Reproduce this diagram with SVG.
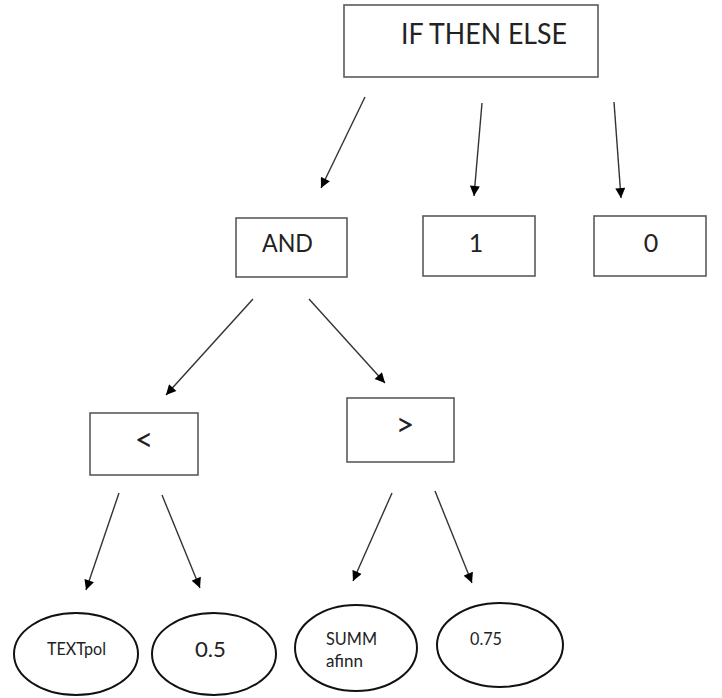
<svg xmlns="http://www.w3.org/2000/svg" width="722" height="698" viewBox="0 0 722 698">
<defs>
<marker id="ah" viewBox="0 0 10 10" refX="10" refY="5" markerWidth="11" markerHeight="10" markerUnits="userSpaceOnUse" orient="auto">
<path d="M0,0 L10,5 L0,10 Z" fill="#000"/>
</marker>
<style>
.box{fill:#fff;stroke:#5a5a5a;stroke-width:1.6}
.ell{fill:#fff;stroke:#111;stroke-width:2}
.t{font-family:Lato,"Liberation Sans",sans-serif;fill:#222}
.c{stroke:#333;stroke-width:1.4;fill:none;marker-end:url(#ah)}
</style>
</defs>
<rect width="722" height="698" fill="#fff"/>
<g id="connectors">
<line class="c" x1="365" y1="97" x2="321" y2="188"/>
<line class="c" x1="482" y1="103" x2="474" y2="196"/>
<line class="c" x1="614" y1="102" x2="621" y2="198"/>
<line class="c" x1="253" y1="299" x2="166" y2="395"/>
<line class="c" x1="309" y1="299" x2="385" y2="383"/>
<line class="c" x1="119" y1="493" x2="86" y2="590"/>
<line class="c" x1="162" y1="495" x2="200" y2="588"/>
<line class="c" x1="392" y1="493" x2="353" y2="581"/>
<line class="c" x1="435" y1="491" x2="472" y2="583"/>
</g>
<g id="ifthenelse">
<rect class="box" x="344" y="5" width="254" height="72"/>
<text class="t" x="401" y="44" font-size="28" textLength="166" lengthAdjust="spacingAndGlyphs">IF THEN ELSE</text>
</g>
<g id="and">
<rect class="box" x="236" y="218" width="111" height="59"/>
<text class="t" x="262" y="252" font-size="25" textLength="51" lengthAdjust="spacingAndGlyphs">AND</text>
</g>
<g id="one">
<rect class="box" x="423" y="216" width="112" height="60"/>
<text class="t" x="476" y="252" font-size="25" text-anchor="middle">1</text>
</g>
<g id="zero">
<rect class="box" x="594" y="216" width="112" height="60"/>
<text class="t" x="651" y="252" font-size="25" text-anchor="middle">0</text>
</g>
<g id="lt">
<rect class="box" x="90" y="413" width="108" height="62"/>
<text class="t" x="144" y="451" font-size="32" text-anchor="middle">&lt;</text>
</g>
<g id="gt">
<rect class="box" x="347" y="398" width="107" height="64"/>
<text class="t" x="405" y="436" font-size="32" text-anchor="middle">&gt;</text>
</g>
<g id="textpol">
<ellipse class="ell" cx="76" cy="654" rx="62" ry="41"/>
<text class="t" x="47" y="655" font-size="17" textLength="59" lengthAdjust="spacingAndGlyphs">TEXTpol</text>
</g>
<g id="half">
<ellipse class="ell" cx="214" cy="654" rx="62" ry="41"/>
<text class="t" x="195" y="657" font-size="21" textLength="31" lengthAdjust="spacingAndGlyphs">0.5</text>
</g>
<g id="summ">
<ellipse class="ell" cx="356" cy="648" rx="61" ry="43"/>
<text class="t" x="326" y="645" font-size="17" textLength="51" lengthAdjust="spacingAndGlyphs">SUMM</text>
<text class="t" x="326" y="667" font-size="17" textLength="37" lengthAdjust="spacingAndGlyphs">afinn</text>
</g>
<g id="p75">
<ellipse class="ell" cx="500" cy="645" rx="63" ry="42"/>
<text class="t" x="470" y="645" font-size="17" textLength="32" lengthAdjust="spacingAndGlyphs">0.75</text>
</g>
</svg>
